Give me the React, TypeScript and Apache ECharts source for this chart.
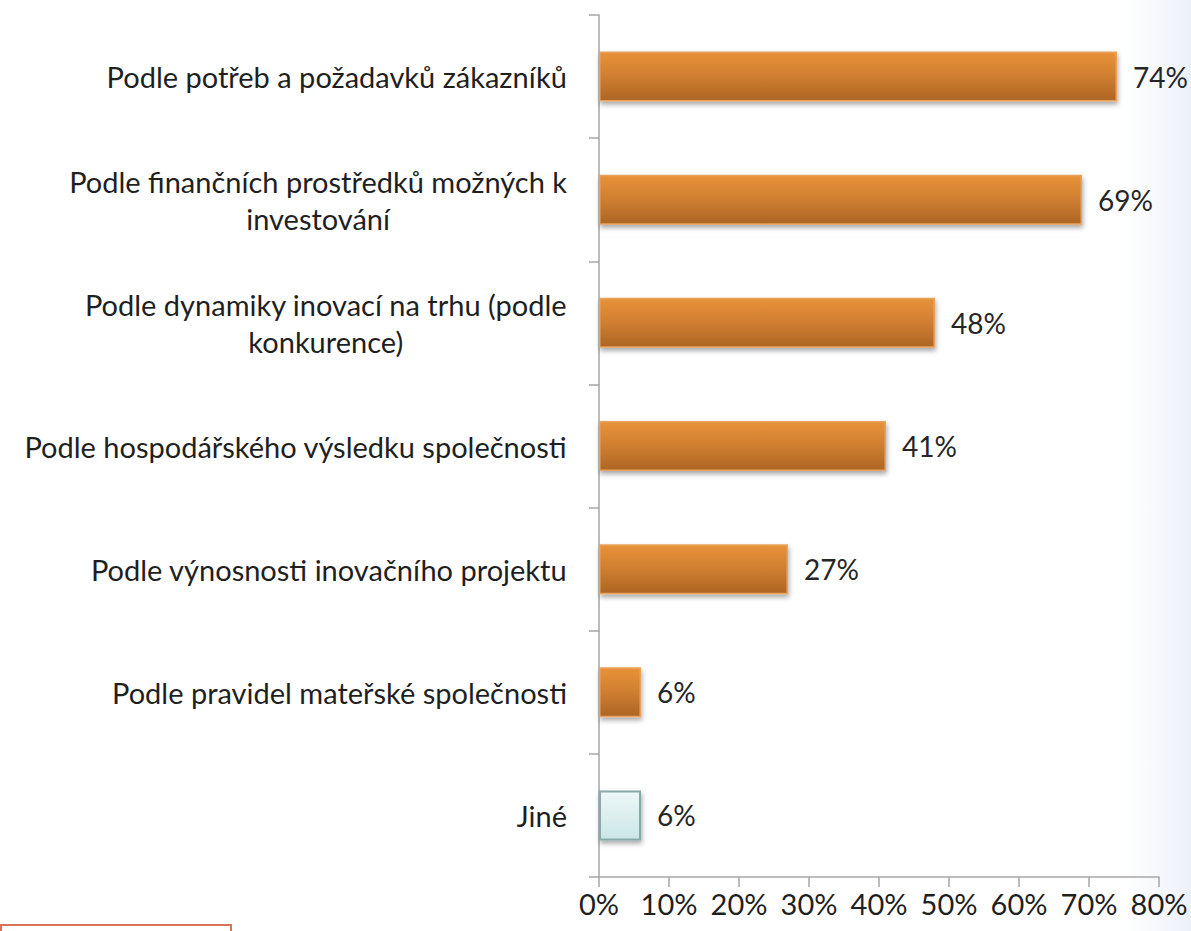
import React, { useEffect, useRef } from "react";
import * as echarts from "echarts";

const categories: string[] = [
  "Podle potřeb a požadavků zákazníků",
  "Podle finančních prostředků možných k\ninvestování",
  "Podle dynamiky inovací na trhu (podle\nkonkurence)",
  "Podle hospodářského výsledku společnosti",
  "Podle výnosnosti inovačního projektu",
  "Podle pravidel mateřské společnosti",
  "Jiné",
];
const values: number[] = [74, 69, 48, 41, 27, 6, 6];
const highlightIndex: number[] = [6];
const xTicks = { min: 0, max: 80, interval: 10 };

const FONT = "Lato";

export default function App() {
  const ref = useRef<HTMLDivElement>(null);
  useEffect(() => {
    if (!ref.current) return;
    const chart = echarts.init(ref.current, undefined, { renderer: "svg" });
    const orange = new echarts.graphic.LinearGradient(0, 0, 0, 1, [
      { offset: 0, color: "#e8923a" },
      { offset: 0.5, color: "#cf7e30" },
      { offset: 1, color: "#ad6524" },
    ]);
    const cyan = new echarts.graphic.LinearGradient(0, 0, 0, 1, [
      { offset: 0, color: "#eef8f8" },
      { offset: 1, color: "#cbe6e6" },
    ]);
    const data = values.map((v, i) => {
      const hl = highlightIndex.includes(i);
      return {
        value: v,
        itemStyle: {
          color: hl ? cyan : orange,
          borderColor: hl ? "#86aaaa" : "#e9a35c",
          borderWidth: hl ? 2 : 1.5,
          shadowColor: "rgba(0,0,0,0.35)",
          shadowBlur: 5,
          shadowOffsetX: 1,
          shadowOffsetY: 3,
        },
      };
    });
    chart.setOption({
      animation: false,
      backgroundColor: "#ffffff",
      textStyle: { fontFamily: FONT },
      graphic: [
        {
          type: "rect",
          z: -10,
          silent: true,
          shape: { x: 1125, y: 0, width: 66, height: 931 },
          style: {
            fill: new echarts.graphic.LinearGradient(0, 0, 1, 0, [
              { offset: 0, color: "rgba(238,242,248,0)" },
              { offset: 1, color: "rgba(236,240,247,1)" },
            ]),
          },
        },
        {
          type: "rect",
          z: 10,
          silent: true,
          shape: { x: 1, y: 925, width: 230, height: 20 },
          style: { fill: "#ffffff", stroke: "#d8735b", lineWidth: 2 },
        },
      ],
      grid: { left: 599, right: 32, top: 15, bottom: 54, containLabel: false },
      xAxis: {
        type: "value",
        min: xTicks.min,
        max: xTicks.max,
        interval: xTicks.interval,
        axisLine: { show: true, lineStyle: { color: "#a6a6a6", width: 1.5 } },
        axisTick: { show: true, length: 10, lineStyle: { color: "#a6a6a6", width: 1.5 } },
        splitLine: { show: false },
        axisLabel: {
          formatter: (v: number) => v + "%",
          color: "#1f1f1f",
          fontFamily: FONT,
          fontSize: 29,
          margin: 12,
        },
      },
      yAxis: {
        type: "category",
        data: categories,
        inverse: true,
        axisLine: { show: true, lineStyle: { color: "#a6a6a6", width: 1.5 } },
        axisTick: { show: true, length: 10, lineStyle: { color: "#a6a6a6", width: 1.5 } },
        axisLabel: {
          color: "#1f1f1f",
          fontFamily: FONT,
          fontSize: 29,
          margin: 32,
          lineHeight: 37,
          formatter: (v: string) => "{c|" + v.split("\n").join("}\n{c|") + "}",
          rich: {
            c: { align: "center", fontFamily: FONT, fontSize: 29, color: "#1f1f1f", lineHeight: 37 },
          },
        },
      },
      series: [
        {
          type: "bar",
          data,
          barWidth: 50,
          label: {
            show: true,
            position: "right",
            distance: 16,
            formatter: (p: any) => p.value + "%",
            color: "#262626",
            fontFamily: FONT,
            fontSize: 28,
          },
        },
      ],
    });
    return () => chart.dispose();
  }, []);
  return <div ref={ref} style={{ width: 1191, height: 931, position: "absolute", left: 0, top: 0 }} />;
}
